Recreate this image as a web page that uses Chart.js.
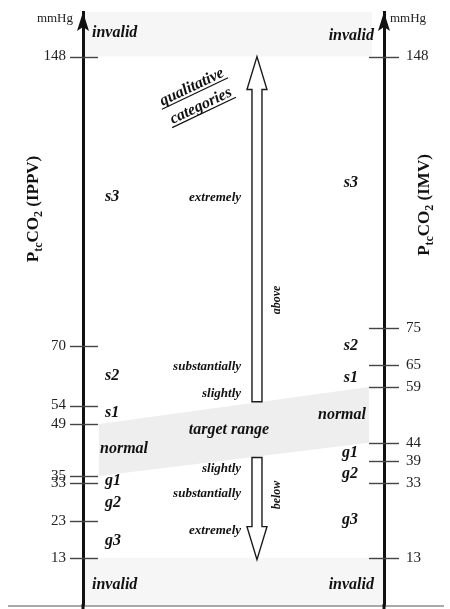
<!DOCTYPE html>
<html>
<head>
<meta charset="utf-8">
<script src="https://cdn.jsdelivr.net/npm/chart.js@4/dist/chart.umd.min.js"></script>
<style>
  html, body { margin: 0; padding: 0; background: #fff; }
  canvas { display: block; }
</style>
</head>
<body>
<canvas id="c" width="450" height="609"></canvas>
<script>
// PtcCO2 classification, mmHg: IPPV on the left scale, IMV on the right scale
const scaleMin = 0;
const scaleMax = 160;
const ippvTicks = [13, 23, 33, 35, 49, 54, 70, 148];
const imvTicks = [13, 33, 39, 44, 59, 65, 75, 148];

// category names, from the bottom of each scale to the top
const ippvCategories = ['invalid', 'g3', 'g2', 'g1', 'normal', 's1', 's2', 's3', 'invalid'];
const imvCategories = ['invalid', 'g3', 'g2', 'g1', 'normal', 's1', 's2', 's3', 'invalid'];

// target range: IPPV 35–49 joined to IMV 44–59
const targetLow = [35, 44];
const targetHigh = [49, 59];

// measurements outside these limits are invalid
const invalidBelow = 13;
const invalidAbove = 148;

// qualitative categories, top to bottom
const qualitativeLabels = ['extremely', 'substantially', 'slightly', 'target range', 'slightly', 'substantially', 'extremely'];

// the two direction arrows: [start, tip] in mmHg
const arrowAbove = [55, 148];
const arrowBelow = [40, 12.5];

// ---- layout (value units on the scales / pixel offsets) ----
const place = {
  ippvNameAt: [4.6, 16.4, 26.7, 32.6, 41.2, 50.9, 60.9, 109.1, 153.3],
  imvNameAt: [4.6, 22.1, 34.5, 40.1, 50.4, 60.3, 69.0, 112.9, 152.5],
  qualitativeAt: [109.1, 63.6, 56.3, 46.3, 36.1, 29.4, 19.4],
  qualitativeX: 52.5,
  targetX: 48.5,
  bandX: [5.3, 95],
  topInvalidX: 96,
  arrowX: 57.8
};

const SERIF = '"Liberation Serif", "Times New Roman", serif';
Chart.defaults.font.family = SERIF;

const shadeInvalid = '#f6f6f6';
const shadeTarget = '#eeeeef';

function pts(xs, ys) { return xs.map((x, i) => ({ x, y: ys[i] })); }

const datasets = [
  { // invalid, above
    data: pts([0, place.topInvalidX], [scaleMax, scaleMax]),
    fill: { value: invalidAbove }, backgroundColor: shadeInvalid
  },
  { // invalid, below
    data: pts([0, 100], [invalidBelow, invalidBelow]),
    fill: { value: scaleMin }, backgroundColor: shadeInvalid
  },
  { // target range, upper edge
    data: pts(place.bandX, targetHigh),
    fill: '+1', backgroundColor: shadeTarget
  },
  { // target range, lower edge
    data: pts(place.bandX, targetLow),
    fill: false
  }
].map(d => Object.assign({ borderWidth: 0, pointRadius: 0, tension: 0 }, d));

function tickScale(position, values, width, pad) {
  return {
    type: 'linear', position, min: scaleMin, max: scaleMax,
    afterBuildTicks: s => { s.ticks = values.map(v => ({ value: v })); },
    afterFit: s => { s.width = width; s.paddingTop = 0; s.paddingBottom = 0; },
    grid: { display: true, drawOnChartArea: false, drawTicks: false },
    border: { display: true, color: '#111', width: 3, z: 1 },
    ticks: {
      autoSkip: false, padding: pad, color: '#222',
      font: { family: SERIF, size: 15 },
      callback: v => String(v)
    }
  };
}

function sub(ctx, parts, x, y, rot, align) {
  // parts: [text, size, dy]
  ctx.save();
  ctx.translate(x, y);
  ctx.rotate(rot);
  let total = 0;
  parts.forEach(p => { ctx.font = 'bold ' + p[1] + 'px ' + SERIF; total += ctx.measureText(p[0]).width; });
  let cx = align === 'center' ? -total / 2 : 0;
  ctx.textAlign = 'left';
  ctx.textBaseline = 'alphabetic';
  parts.forEach(p => {
    ctx.font = 'bold ' + p[1] + 'px ' + SERIF;
    ctx.fillText(p[0], cx, p[2]);
    cx += ctx.measureText(p[0]).width;
  });
  ctx.restore();
}

const decor = {
  id: 'decor',
  afterDraw(chart) {
    const { ctx, chartArea: a, scales: { x, y } } = chart;
    const px = v => x.getPixelForValue(v);
    const py = v => y.getPixelForValue(v);
    const L = a.left, R = a.right;
    ctx.save();

    // baseline rule
    ctx.strokeStyle = '#8c8c8c';
    ctx.lineWidth = 1.4;
    ctx.beginPath(); ctx.moveTo(8, a.bottom); ctx.lineTo(444, a.bottom); ctx.stroke();

    // axis lines carried to the lower edge
    ctx.strokeStyle = '#111';
    ctx.lineWidth = 3;
    [L, R].forEach(ax => { ctx.beginPath(); ctx.moveTo(ax, a.bottom - 2); ctx.lineTo(ax, chart.height); ctx.stroke(); });

    // tick marks crossing each axis
    ctx.strokeStyle = '#444';
    ctx.lineWidth = 1.4;
    ippvTicks.forEach(v => { const yy = Math.round(py(v)) + 0.5; ctx.beginPath(); ctx.moveTo(L - 13, yy); ctx.lineTo(L + 15, yy); ctx.stroke(); });
    imvTicks.forEach(v => { const yy = Math.round(py(v)) + 0.5; ctx.beginPath(); ctx.moveTo(R - 15, yy); ctx.lineTo(R + 15, yy); ctx.stroke(); });

    // arrowheads on top of both axes
    ctx.fillStyle = '#111';
    [L, R].forEach(ax => {
      ctx.beginPath();
      ctx.moveTo(ax, a.top);
      ctx.lineTo(ax + 6, a.top + 19);
      ctx.lineTo(ax, a.top + 15);
      ctx.lineTo(ax - 6, a.top + 19);
      ctx.closePath();
      ctx.fill();
    });

    // units
    ctx.fillStyle = '#222';
    ctx.font = '13px ' + SERIF;
    ctx.textBaseline = 'alphabetic';
    ctx.textAlign = 'right'; ctx.fillText('mmHg', L - 10, 22);
    ctx.textAlign = 'left'; ctx.fillText('mmHg', R + 6, 22);

    // axis titles
    ctx.fillStyle = '#111';
    const midY = (py(105) + py(112)) / 2;
    sub(ctx, [['P', 17, 0], ['tc', 12, 4], ['CO', 17, 0], ['2', 12, 4], [' (IPPV)', 17, 0]], 38, 209, -Math.PI / 2, 'center');
    sub(ctx, [['P', 17, 0], ['tc', 12, 4], ['CO', 17, 0], ['2', 12, 4], [' (IMV)', 17, 0]], 429, 205, -Math.PI / 2, 'center');

    // hollow direction arrows
    const cx = px(place.arrowX);
    const shaft = 5, head = 10, headLen = 33;
    ctx.fillStyle = '#fff';
    ctx.strokeStyle = '#1a1a1a';
    ctx.lineWidth = 1.4;
    ctx.lineJoin = 'miter';
    const drawArrow = (from, to) => {
      const y0 = py(from), y1 = py(to);
      const dir = y1 < y0 ? 1 : -1;            // 1 = pointing up
      const yb = y1 + dir * headLen;
      ctx.beginPath();
      ctx.moveTo(cx - shaft, y0);
      ctx.lineTo(cx - shaft, yb);
      ctx.lineTo(cx - head, yb);
      ctx.lineTo(cx, y1);
      ctx.lineTo(cx + head, yb);
      ctx.lineTo(cx + shaft, yb);
      ctx.lineTo(cx + shaft, y0);
      ctx.closePath();
      ctx.fill();
      ctx.stroke();
    };
    drawArrow(arrowAbove[0], arrowAbove[1]);
    drawArrow(arrowBelow[0], arrowBelow[1]);

    // category names along both scales
    ctx.fillStyle = '#111';
    ctx.font = 'bold italic 16px ' + SERIF;
    ctx.textBaseline = 'alphabetic';
    ctx.textAlign = 'left';
    ippvCategories.forEach((c, i) => {
      const off = c === 'invalid' ? 9 : c === 'normal' ? 17 : 22;
      ctx.fillText(c, L + off, py(place.ippvNameAt[i]));
    });
    ctx.textAlign = 'right';
    imvCategories.forEach((c, i) => {
      const off = c === 'invalid' ? 10 : c === 'normal' ? 18 : 26;
      ctx.fillText(c, R - off, py(place.imvNameAt[i]));
    });

    // qualitative category words
    qualitativeLabels.forEach((t, i) => {
      if (t === 'target range') {
        ctx.font = 'bold italic 16px ' + SERIF;
        ctx.textAlign = 'center';
        ctx.fillText(t, px(place.targetX), py(place.qualitativeAt[i]));
      } else {
        ctx.font = 'bold italic 13px ' + SERIF;
        ctx.textAlign = 'right';
        ctx.fillText(t, px(place.qualitativeX), py(place.qualitativeAt[i]));
      }
    });

    // arrow captions
    ctx.font = 'bold italic 12px ' + SERIF;
    ctx.textAlign = 'center';
    [['above', 300], ['below', 495]].forEach(([t, yy]) => {
      ctx.save();
      ctx.translate(280, yy);
      ctx.rotate(-Math.PI / 2);
      ctx.fillText(t, 0, 0);
      ctx.restore();
    });

    // heading, rotated and underlined
    ctx.font = 'bold italic 16px ' + SERIF;
    ctx.save();
    ctx.translate(195, 93.5);
    ctx.rotate(-25.5 * Math.PI / 180);
    ctx.textAlign = 'center';
    ctx.lineWidth = 1.2;
    ctx.strokeStyle = '#111';
    [['qualitative', 0], ['categories', 21]].forEach(([t, dy]) => {
      const w = ctx.measureText(t).width + 4;
      ctx.fillText(t, 0, dy - 3);
      ctx.beginPath(); ctx.moveTo(-w / 2, dy); ctx.lineTo(w / 2, dy); ctx.stroke();
    });
    ctx.restore();

    ctx.restore();
  }
};

new Chart(document.getElementById('c'), {
  type: 'line',
  data: { datasets },
  options: {
    responsive: false,
    animation: false,
    events: [],
    layout: { padding: { top: 12, bottom: 3, left: 0, right: 0 } },
    plugins: { legend: { display: false }, tooltip: { enabled: false } },
    scales: {
      x: { type: 'linear', min: 0, max: 100, display: false },
      y: tickScale('left', ippvTicks, 83, 17),
      y2: tickScale('right', imvTicks, 66, 22)
    }
  },
  plugins: [decor]
});
</script>
</body>
</html>
